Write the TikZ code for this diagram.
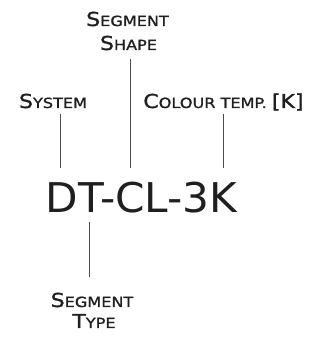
\documentclass[tikz,border=0pt]{standalone}
\usepackage{fontspec}
\newfontfamily\cadsmall[FakeStretch=1.15,FakeBold=1.2]{DejaVu Sans}
\newfontfamily\cadbig[FakeStretch=1.03]{DejaVu Sans}
\newcommand\fsc[2]{{\fontsize{19.2}{24}\selectfont #1}{\fontsize{14}{24}\selectfont #2}}
\begin{document}
\begin{tikzpicture}[x=1pt,y=1pt,
  lbl/.style={inner sep=0pt, text=black!88, font=\cadsmall, align=center},
  code/.style={inner sep=0pt, text=black!88, font=\cadbig\fontsize{41}{41}\selectfont},
  lead/.style={draw=black!70, line width=0.8pt}]
\useasboundingbox (0,0) rectangle (320,338);
\node[lbl, anchor=base] (sys) at (53,230) {\fsc{S}{YSTEM}};
\node[lbl, anchor=base] (col) at (223.5,230) {\fsc{C}{OLOUR TEMP. }{\fontsize{19.2}{24}\selectfont [K]}};
\node[lbl, anchor=base] (shape1) at (127.5,312) {\fsc{S}{EGMENT}};
\node[lbl, anchor=base] (shape2) at (128.5,288) {\fsc{S}{HAPE}};
\node[lbl, anchor=base] (type1) at (92,31) {\fsc{S}{EGMENT}};
\node[lbl, anchor=base] (type2) at (94,10) {\fsc{T}{YPE}};
\node[code, anchor=base] (dt) at (141.5,125) {DT-CL-3K};
\coordinate (sysT) at (60,224);
\coordinate (sysB) at (60,170);
\coordinate (shpT) at (130,279);
\coordinate (shpB) at (130,170);
\coordinate (colT) at (223,224);
\coordinate (colB) at (223,170);
\coordinate (typT) at (89,116);
\coordinate (typB) at (89,61);
\draw[lead] (sysT) -- (sysB);
\draw[lead] (shpT) -- (shpB);
\draw[lead] (colT) -- (colB);
\draw[lead] (typT) -- (typB);
\end{tikzpicture}
\end{document}
